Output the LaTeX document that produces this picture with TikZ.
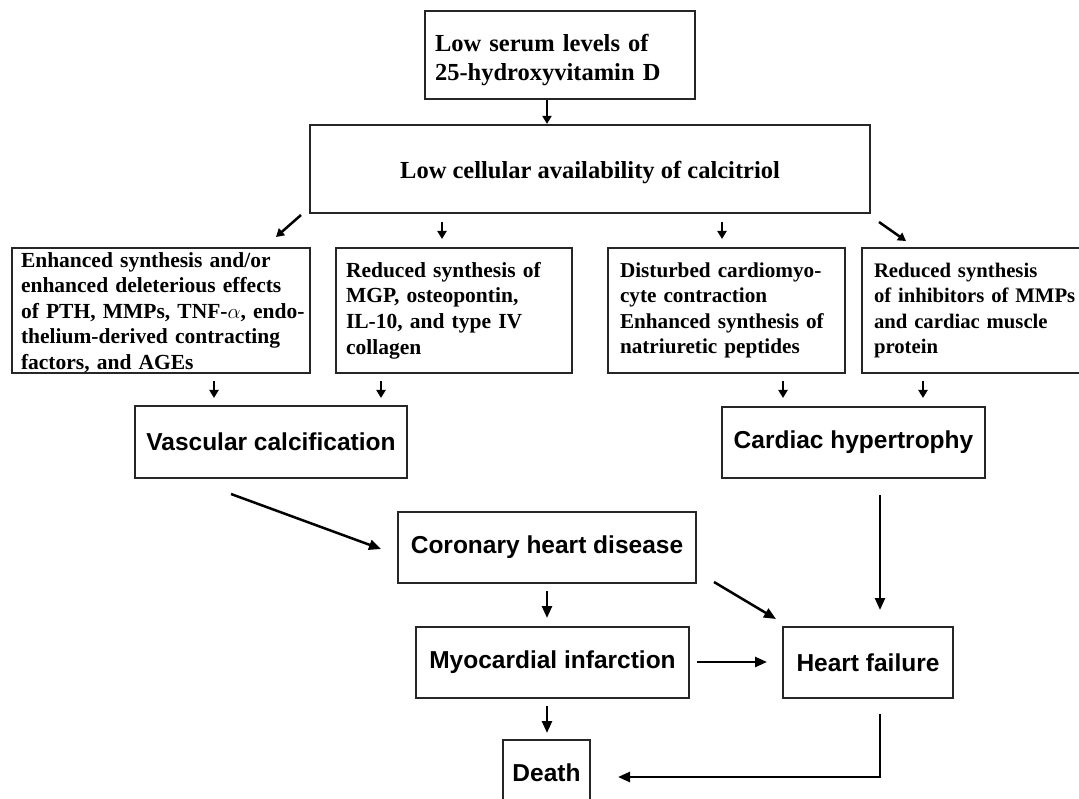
\documentclass[tikz,border=0pt]{standalone}
\usepackage{fontspec}
\setmainfont{Liberation Serif}
\setsansfont{Liberation Sans}
\usetikzlibrary{arrows.meta}
\begin{document}
\begin{tikzpicture}[x=1pt,y=-1pt,
  box/.style={draw=black!85, line width=2.2pt, inner sep=0pt},
  serifbig/.style={font=\fontsize{24.5}{29}\selectfont\bfseries},
  serifrow/.style={font=\fontsize{21.5}{25.6}\selectfont\bfseries, align=left, minimum height=125pt},
  sansbox/.style={box, font=\fontsize{24.5}{29}\selectfont\sffamily\bfseries, minimum height=71pt},
  arr/.style={line width=2.5pt, -{Triangle[length=12pt,width=10pt]}},
  sarr/.style={line width=2.5pt, -{Triangle[length=8pt,width=9pt]}}]
\useasboundingbox (0,0) rectangle (1079,799);
\fill[white] (0,0) rectangle (1079,799);
\clip (0,0) rectangle (1079,799);

% boxes
\node[box, serifbig, minimum width=270pt, minimum height=88pt, text width=250pt, align=left] (top) at (560,55)
  {\rule{0pt}{28pt}\mbox{Low serum levels of}\\\mbox{25-hydroxyvitamin D}};
\node[box, serifbig, minimum width=560pt, minimum height=88pt] (calc) at (590,169)
  {\rule{0pt}{25pt}\mbox{Low cellular availability of calcitriol}\hspace{14pt}};
\node[box, serifrow, minimum width=298pt, text width=280pt] (b1) at (161,310.5)
  {\rule{0pt}{19pt}\mbox{Enhanced synthesis and/or}\\\mbox{enhanced deleterious effects}\\\mbox{of PTH, MMPs, TNF-$\alpha$, endo-}\\\mbox{thelium-derived contracting}\\\mbox{factors, and AGEs}};
\node[box, serifrow, minimum width=236pt, text width=216pt] (b2) at (454,310.5)
  {\mbox{Reduced synthesis of}\\\mbox{MGP, osteopontin,}\\\mbox{IL-10, and type IV}\\\mbox{collagen}};
\node[box, serifrow, font=\fontsize{21.2}{25.6}\selectfont\bfseries, minimum width=237pt, text width=213pt] (b3) at (726.5,310.5)
  {\mbox{Disturbed cardiomyo-}\\\mbox{cyte contraction}\\\mbox{Enhanced synthesis of}\\\mbox{natriuretic peptides}};
\node[box, serifrow, font=\fontsize{20.7}{25.6}\selectfont\bfseries, minimum width=240pt, text width=216pt] (b4) at (982,310.5)
  {\mbox{Reduced synthesis}\\\mbox{of inhibitors of MMPs}\\\mbox{and cardiac muscle}\\\mbox{protein}};
\node[sansbox, minimum width=272pt, minimum height=72pt] (vasc) at (271,442) {Vascular calcification};
\node[sansbox, minimum width=263pt] (card) at (853.5,442.5) {Cardiac hypertrophy};
\node[sansbox, minimum width=298pt] (cor) at (547,547.5) {Coronary heart disease};
\node[sansbox, minimum width=273pt] (mi) at (552.5,662.5) {Myocardial infarction};
\node[sansbox, minimum width=170pt] (hf) at (868,662.5) {Heart failure};
\node[sansbox, minimum width=87pt, minimum height=66pt] (death) at (546.5,773) {Death};

% arrow end points (gaps between boxes)
\coordinate (c1a) at (301,215); \coordinate (c1b) at (276,237);
\coordinate (c2a) at (442,222); \coordinate (c2b) at (442,239);
\coordinate (c3a) at (722,222); \coordinate (c3b) at (722,239);
\coordinate (c4a) at (879,222); \coordinate (c4b) at (906,241);
\coordinate (v1a) at (214,381); \coordinate (v1b) at (214,398);
\coordinate (v2a) at (381,381); \coordinate (v2b) at (381,398);
\coordinate (h1a) at (783,381); \coordinate (h1b) at (783,398);
\coordinate (h2a) at (923,381); \coordinate (h2b) at (923,398);
\coordinate (vc1) at (231,494); \coordinate (vc2) at (381,549);
\coordinate (cm1) at (547,591); \coordinate (cm2) at (547,618);
\coordinate (ch1) at (714,582); \coordinate (ch2) at (776,619);
\coordinate (kh1) at (880,495); \coordinate (kh2) at (880,610);
\coordinate (mh1) at (697,662); \coordinate (mh2) at (767,662);
\coordinate (md1) at (547,706); \coordinate (md2) at (547,733);
\coordinate (hd1) at (880,714); \coordinate (hd2) at (880,777); \coordinate (hd3) at (618,777);

\draw[sarr] ([xshift=-13pt]top.south) -- ([xshift=-13pt]top.south |- calc.north);
\draw[sarr] (c1a) -- (c1b);
\draw[sarr] (c2a) -- (c2b);
\draw[sarr] (c3a) -- (c3b);
\draw[sarr] (c4a) -- (c4b);
\draw[sarr] (v1a) -- (v1b);
\draw[sarr] (v2a) -- (v2b);
\draw[sarr] (h1a) -- (h1b);
\draw[sarr] (h2a) -- (h2b);
\draw[arr] (vc1) -- (vc2);
\draw[arr] (cm1) -- (cm2);
\draw[arr] (ch1) -- (ch2);
\draw[arr] (kh1) -- (kh2);
\draw[arr] (mh1) -- (mh2);
\draw[arr] (md1) -- (md2);
\draw[arr] (hd1) -- (hd2) -- (hd3);
\end{tikzpicture}
\end{document}
